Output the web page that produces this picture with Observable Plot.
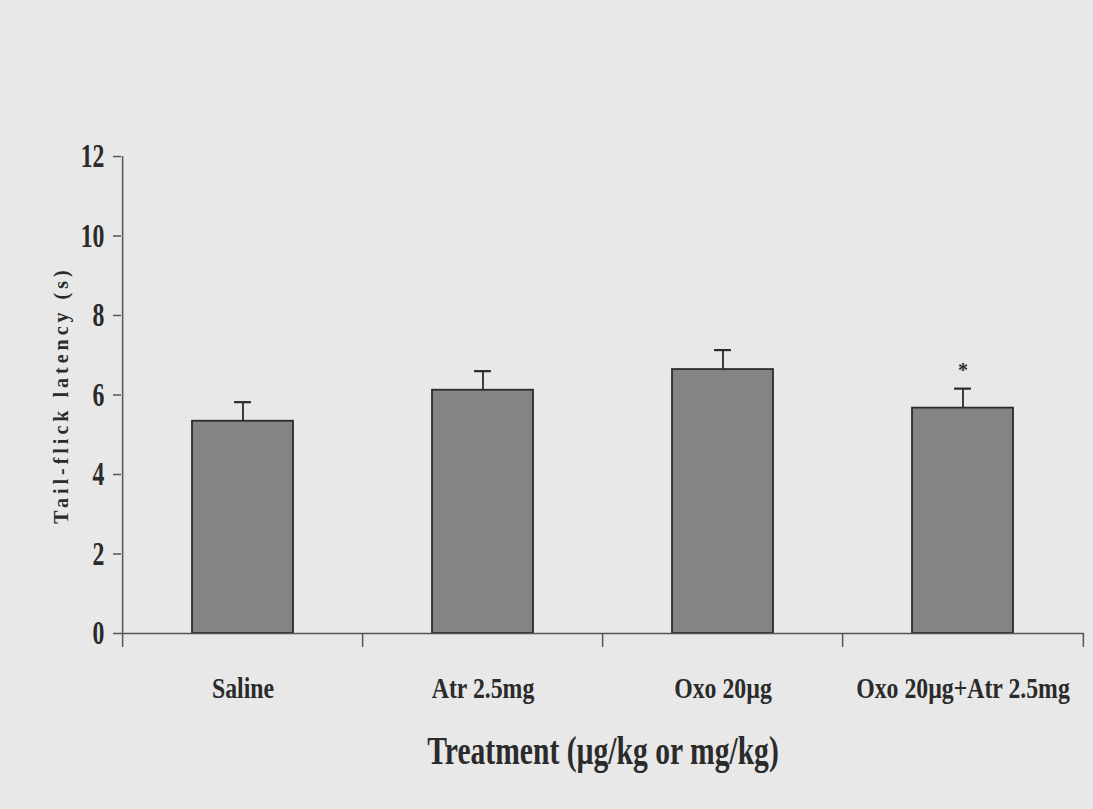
<!DOCTYPE html>
<html><head><meta charset="utf-8">
<script src="https://cdn.jsdelivr.net/npm/d3@7"></script>
<script src="https://cdn.jsdelivr.net/npm/@observablehq/plot@0.6"></script>
<style>
html,body{margin:0;padding:0;background:#e8e8e8;}
svg{display:block;background:linear-gradient(to right,#f0f0f0 0%,#e6e6e6 35%,#e4e4e4 70%,#e9e9e9 100%);}
</style></head><body>
<script>
const treatments = ["Saline", "Atr 2.5mg", "Oxo 20µg", "Oxo 20µg+Atr 2.5mg"];
const latency = [5.34, 6.12, 6.64, 5.67];
const sem = [0.48, 0.48, 0.49, 0.49];
const significance = ["", "", "", "*"];
const yTicks = [0, 2, 4, 6, 8, 10, 12];
const yTitle = "Tail-flick latency (s)";
const xTitle = "Treatment (µg/kg or mg/kg)";

const data = treatments.map((t, i) => ({treatment: t, latency: latency[i], top: latency[i] + sem[i], sig: significance[i]}));

const W = 1093, H = 809, mL = 121, mR = 9, mT = 156, mB = 176;
const step = (W - mL - mR) / treatments.length;
const bandW = 0.42 * step;
const serif = "'Liberation Serif', 'Times New Roman', serif";
const ink = "#2b2b2b", axisInk = "#555";

const chart = Plot.plot({
  width: W, height: H, marginLeft: mL, marginRight: mR, marginTop: mT, marginBottom: mB,
  style: {background: "transparent", fontFamily: serif, color: ink},
  x: {domain: treatments, type: "band", paddingInner: 0.58, paddingOuter: 0.29, align: 0.5},
  y: {domain: [0, 12]},
  marks: [
    Plot.barY(data, {x: "treatment", y: "latency", fill: "#848484", stroke: ink, strokeWidth: 1.8}),
    Plot.ruleX(data, {x: "treatment", y1: "latency", y2: "top", stroke: ink, strokeWidth: 1.8}),
    Plot.tickY(data, {x: "treatment", y: "top", stroke: ink, strokeWidth: 2.2, insetLeft: (bandW - 17) / 2, insetRight: (bandW - 17) / 2}),
    Plot.text(data, {x: "treatment", y: "top", text: "sig", dy: -18, fontSize: 20, fontWeight: "bold", fill: ink}),
    Plot.ruleY([0], {stroke: axisInk, strokeWidth: 1.5}),
    Plot.ruleX(treatments, {x: d => d, dx: -step / 2, y1: (d, i) => i === 0 ? 12 : 0, y2: -0.35, stroke: axisInk, strokeWidth: 1.5}),
    Plot.ruleX(treatments.slice(-1), {x: d => d, dx: step / 2, y1: 0, y2: -0.35, stroke: axisInk, strokeWidth: 1.5}),
    Plot.axisY({ticks: yTicks, tickSize: 8, tickPadding: 9, fontSize: 34, fontWeight: "bold", label: null, stroke: axisInk, strokeWidth: 1.5}),
    Plot.axisX({tickSize: 0, tickPadding: 44, fontSize: 29, fontWeight: "bold", label: null}),
    Plot.text([yTitle], {frameAnchor: "left", textAnchor: "middle", rotate: -90, dx: -60, fontSize: 20, fontWeight: "bold", fill: ink}),
    Plot.text([xTitle], {frameAnchor: "bottom", dy: 130, fontSize: 40, fontWeight: "bold", fill: ink})
  ]
});
document.body.appendChild(chart);

// horizontally condense text around its anchor point (mimics the condensed typeface)
function condense(nodes, k) {
  nodes.each(function() {
    const x = +(this.getAttribute("x") || 0);
    const t = this.getAttribute("transform") || "";
    this.setAttribute("transform", `${t} translate(${x},0) scale(${k},1) translate(${-x},0)`);
  });
}
const svg = d3.select(chart);
condense(svg.selectAll('g[aria-label="x-axis tick label"] text'), 0.82);
condense(svg.selectAll('g[aria-label="y-axis tick label"] text'), 0.7);
condense(svg.selectAll("text").filter(function() { return this.textContent === xTitle; }), 0.74);
svg.selectAll("text").filter(function() { return this.textContent === yTitle; }).style("letter-spacing", "4px");
</script>
</body></html>
